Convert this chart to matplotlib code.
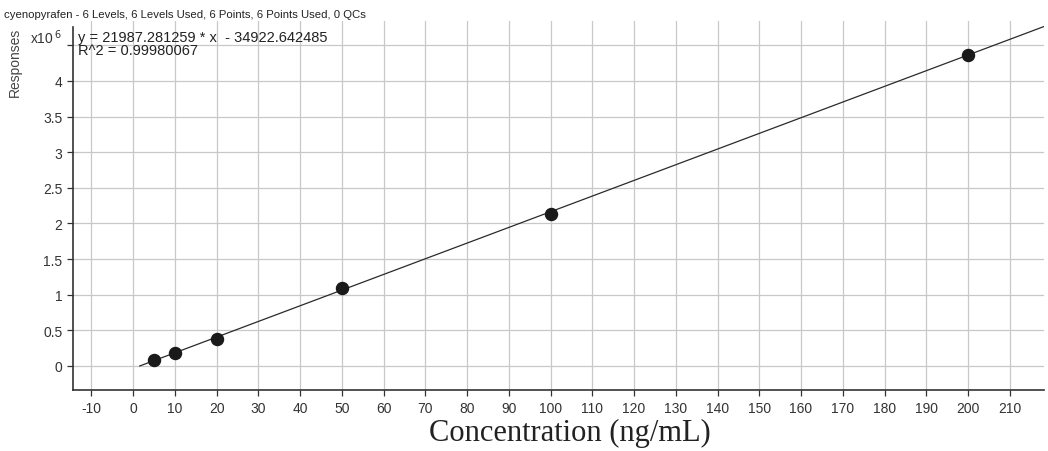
import numpy as np
import matplotlib
matplotlib.use("Agg")
import matplotlib.pyplot as plt

# calibration data (x10^6 responses)
conc = [5, 10, 20, 50, 100, 200]
resp = [0.09, 0.18, 0.38, 1.09, 2.13, 4.37]

# fit coefficients from the report
slope = 21987.281259
intercept = -34922.642485
r2 = 0.99980067

xticks = list(range(-10, 220, 10))
yticks = [0, 0.5, 1, 1.5, 2, 2.5, 3, 3.5, 4, 4.5]
ytick_labels = ["0", "0.5", "1", "1.5", "2", "2.5", "3", "3.5", "4", ""]

plt.rcParams['font.family'] = ['Liberation Sans', 'DejaVu Sans']
plt.rcParams['axes.unicode_minus'] = False

fig = plt.figure(figsize=(10.48, 4.52), dpi=100)
ax = fig.add_axes([73/1048, 1 - 391/452, (1044-73)/1048, (391-22)/452])

ymin, ymax = -0.337, 4.84
ax.set_xlim(-14.4, 218.2)
ax.set_ylim(ymin, ymax)

# fit line
x_line = np.array([-intercept/slope, 218.2])
y_line = (slope*x_line + intercept)/1e6
ax.plot(x_line, y_line, color="#2a2a2a", lw=0.9, zorder=3)

ax.scatter(conc, resp, s=75, color="#1a1a1a", zorder=4)

ax.set_xticks(xticks)
ax.set_yticks(yticks)
ax.set_yticklabels(ytick_labels)
ax.grid(True, color="#c8c8c8", lw=0.9)
ax.set_axisbelow(True)
ax.tick_params(labelsize=10, colors="#333333", length=4, width=0.9)
ax.tick_params(axis='x', pad=4)
for s in ["top", "right"]:
    ax.spines[s].set_visible(False)
for s in ["left", "bottom"]:
    ax.spines[s].set_color("#333333")
    ax.spines[s].set_linewidth(1.2)
ax.spines['left'].set_bounds(ymin, ymax - 6/71.25)

fig.text(4/1048, 1 - 15/452, "cyenopyrafen - 6 Levels, 6 Levels Used, 6 Points, 6 Points Used, 0 QCs",
         fontsize=8.2, color="#222222", va="center", ha="left")
fig.text(15/1048, 1 - 62/452, "Responses", rotation=90, fontsize=10, color="#444444",
         va="center", ha="center")
fig.text(30/1048, 1 - 38/452, "x10$^{\\,6}$", fontsize=10, color="#333333", va="center", ha="left")
fig.text(78/1048, 1 - 38/452, "y = %.6f * x  - %.6f" % (slope, -intercept),
         fontsize=10.5, color="#222222", va="center", ha="left")
fig.text(78/1048, 1 - 51/452, "R^2 = %.8f" % r2,
         fontsize=10.5, color="#222222", va="center", ha="left")
fig.text(570/1048, 1 - 433/452, "Concentration (ng/mL)", fontsize=22,
         family="Liberation Serif", color="#222222", va="center", ha="center")

fig.savefig("out.png", dpi=100)
